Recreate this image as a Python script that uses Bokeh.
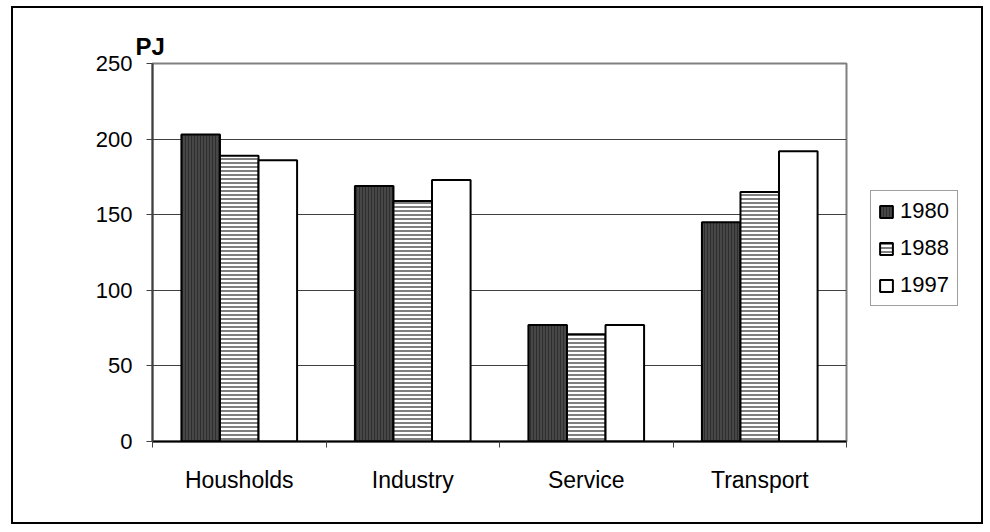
import numpy as np
from bokeh.plotting import figure
from bokeh.models import (ColumnDataSource, Range1d, FixedTicker, Legend,
                          LegendItem, InlineStyleSheet)
from bokeh.embed import file_html
from bokeh.resources import INLINE

# Final energy use by sector, PJ
categories = ["Housholds", "Industry", "Service", "Transport"]
years = ["1980", "1988", "1997"]
pj_1980 = [203, 169, 77, 145]
pj_1988 = [189, 159, 71, 165]
pj_1997 = [186, 173, 77, 192]
y_ticks = [0, 50, 100, 150, 200, 250]

FONT = "Liberation Sans"
FS = "22px"

centers = np.arange(len(categories)) + 0.5
bar_w = 1 / 4.5          # three bars plus a 150% gap per category
offsets = [-bar_w, 0.0, bar_w]

src = ColumnDataSource(dict(
    category=categories,
    x1980=centers + offsets[0],
    x1988=centers + offsets[1],
    x1997=centers + offsets[2],
    y1980=pj_1980,
    y1988=pj_1988,
    y1997=pj_1997,
))

p = figure(frame_width=694, frame_height=378, output_backend="svg", toolbar_location=None,
           x_range=Range1d(0, len(categories)), y_range=Range1d(0, 250),
           min_border_left=152, min_border_right=144,
           min_border_top=63, min_border_bottom=91,
           background_fill_color="white", border_fill_color="white")

# thin black frame around the whole chart area
p.stylesheets = [InlineStyleSheet(css="""
:host::after {
  content: "";
  position: absolute;
  left: 11px; top: 6px;
  width: 972px; height: 518px;
  border: 2px solid black;
  box-sizing: border-box;
  pointer-events: none;
}
""")]

styles = {
    "1980": dict(fill_color="#474747", hatch_pattern="vertical_line",
                 hatch_color="#2e2e2e", hatch_scale=3, hatch_weight=1),
    "1988": dict(fill_color="white", hatch_pattern="horizontal_line",
                 hatch_color="black", hatch_scale=4, hatch_weight=1),
    "1997": dict(fill_color="white"),
}

renderers = []
for yr in years:
    r = p.vbar(x="x" + yr, top="y" + yr, bottom=0, width=bar_w, source=src,
               line_color="black", line_width=2, **styles[yr])
    renderers.append(r)

# unit title above the value axis
p.title.text = "PJ"
p.title.align = "left"
p.title.offset = -17
p.title.standoff = 7
p.title.text_font = FONT
p.title.text_font_size = "24px"
p.title.text_font_style = "bold"
p.title.text_color = "black"

# y axis
yax = p.yaxis[0]
yax.ticker = FixedTicker(ticks=y_ticks, minor_ticks=[])
yax.axis_line_color = "#404040"
yax.axis_line_width = 2
yax.major_tick_line_color = "#404040"
yax.major_tick_out = 6
yax.major_tick_in = 0
yax.major_label_standoff = 14
yax.major_label_text_font = FONT
yax.major_label_text_font_size = FS
yax.major_label_text_color = "black"

# x axis: labels at category centres, tick marks on category boundaries
xax = p.xaxis[0]
xax.ticker = FixedTicker(ticks=list(centers), minor_ticks=list(range(len(categories) + 1)))
xax.major_label_overrides = {float(c): name for c, name in zip(centers, categories)}
xax.major_tick_line_color = None
xax.major_tick_out = 0
xax.major_tick_in = 0
xax.minor_tick_line_color = "#404040"
xax.minor_tick_out = 6
xax.minor_tick_in = 0
xax.axis_line_color = "black"
xax.axis_line_width = 2
xax.major_label_standoff = 19
xax.major_label_text_font = FONT
xax.major_label_text_font_size = "23px"
xax.major_label_text_color = "black"

p.xgrid.visible = False
p.ygrid.grid_line_color = "#404040"
p.ygrid.grid_line_width = 1

p.outline_line_color = "#808080"
p.outline_line_width = 2

legend = Legend(items=[LegendItem(label=yr, renderers=[r]) for yr, r in zip(years, renderers)],
                location=(24, 135), margin=0, padding=7, spacing=11,
                glyph_width=16, glyph_height=15, label_standoff=6,
                label_height=22, label_width=50,
                label_text_font=FONT, label_text_font_size=FS, label_text_color="black",
                border_line_color="#404040", border_line_width=1,
                background_fill_color="white", background_fill_alpha=1)
p.add_layout(legend, "right")

open("out.html", "w").write(file_html(p, INLINE))
